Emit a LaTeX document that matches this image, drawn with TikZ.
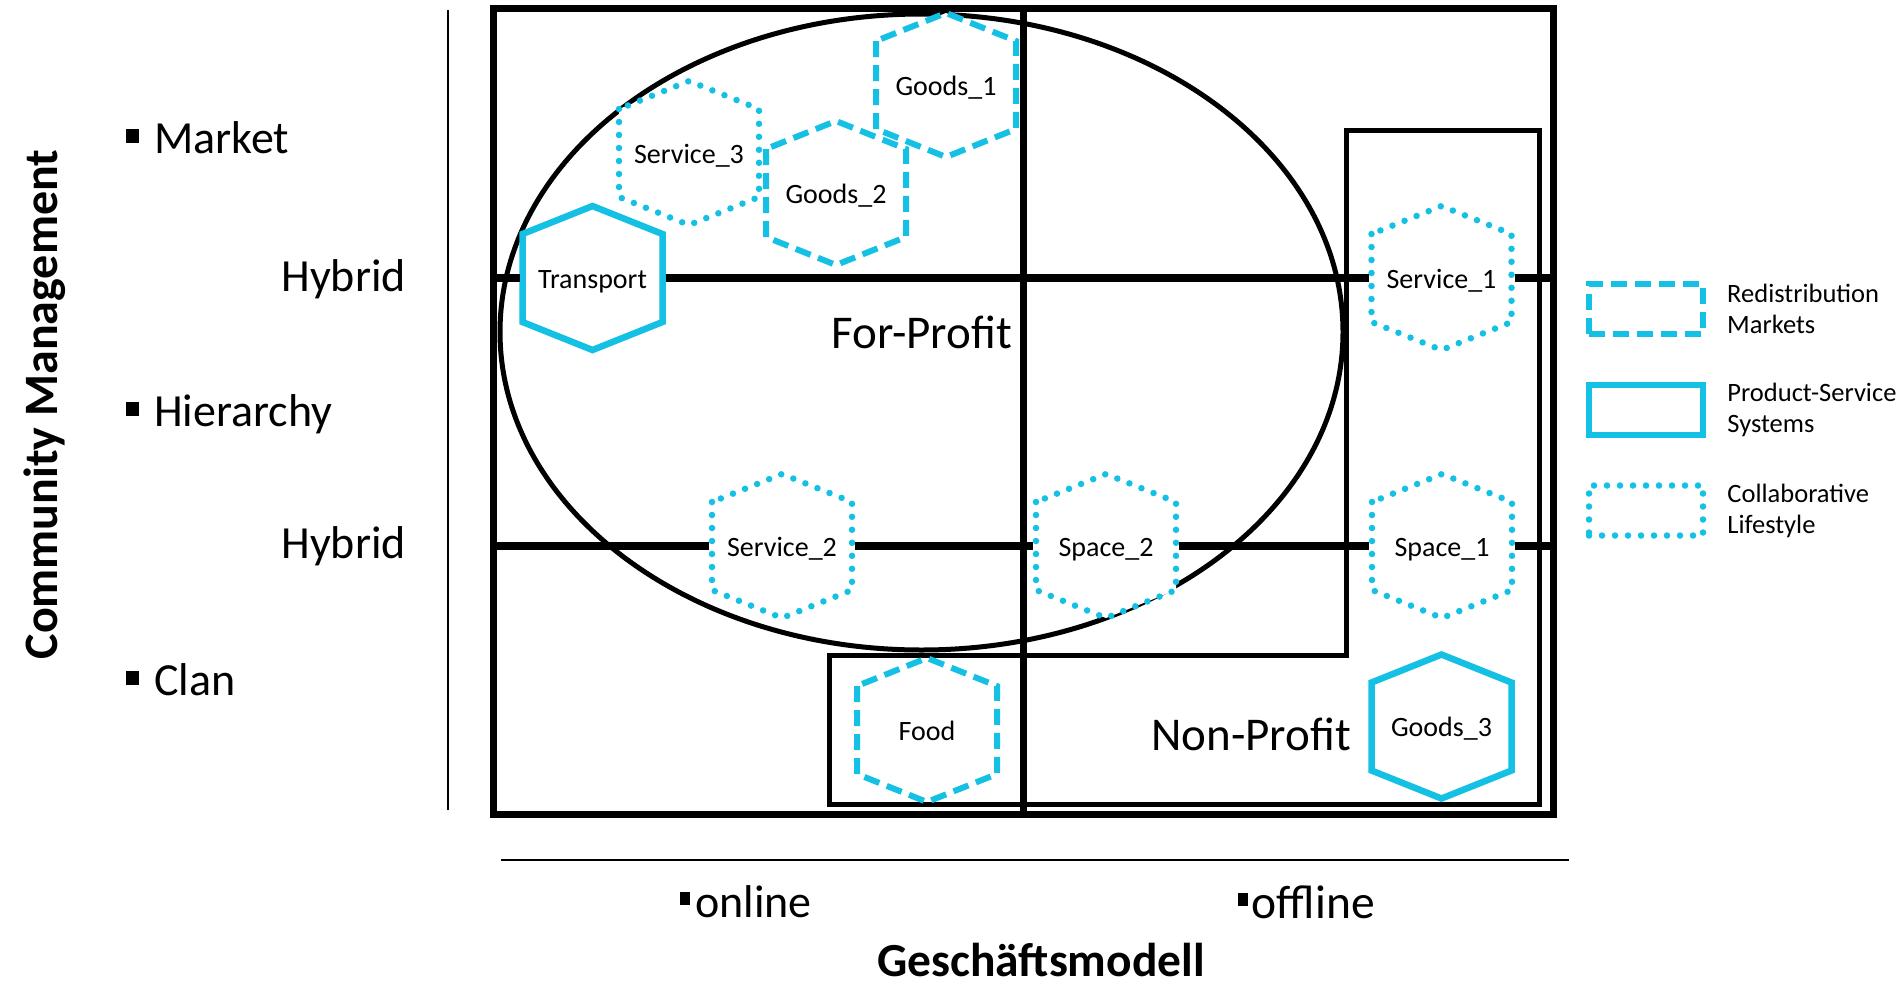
\documentclass[tikz,border=0pt]{standalone}
\usepackage{fontspec}
\setmainfont{Carlito}
\usetikzlibrary{positioning}
\definecolor{skyblue}{RGB}{20,192,228}

\begin{document}
\begin{tikzpicture}[x=1pt,y=-1pt,
  box line/.style={line width=7pt},
  hyb line/.style={draw,line width=7.5pt},
  thin line/.style={line width=2.5pt},
  border line/.style={line width=5pt},
  redis/.style={draw=skyblue,line width=6pt,dash pattern=on 16pt off 8pt},
  pss/.style={draw=skyblue,line width=6.5pt},
  colla/.style={draw=skyblue,line width=6.5pt,dash pattern=on 0pt off 13pt,line cap=round},
  hex node/.style={rectangle,minimum width=140pt,minimum height=88pt,inner sep=0pt,outer sep=3pt,
    text height=20pt,text depth=0pt,font=\fontsize{28}{34}\selectfont},
  big label/.style={inner sep=0pt,font=\fontsize{46}{55}\selectfont},
  leg node/.style={rectangle,minimum width=114pt,minimum height=50pt,inner sep=0pt},
  leg text/.style={inner sep=0pt,align=left,font=\fontsize{26.5}{31}\selectfont}]
  \useasboundingbox (0,0) rectangle (1901,986);

  % axes
  \draw[thin line] (448,10) -- (448,810);
  \draw[thin line] (501,860) -- (1569,860);
  \node[big label,rotate=90,anchor=base,font=\bfseries\fontsize{48}{56}\selectfont] (cm) at (57,404.6) {Community Management};
  \node[big label,anchor=base west] (market) at (126,153.7) {\rule[10.5pt]{13pt}{14pt}\hspace{15pt}Market};
  \node[big label,anchor=base east] (hybA) at (406,291.5) {Hybrid};
  \node[big label,anchor=base west] (hier) at (126,426.5) {\rule[10.5pt]{13pt}{14pt}\hspace{15pt}Hierarchy};
  \node[big label,anchor=base east] (hybB) at (406,558) {Hybrid};
  \node[big label,anchor=base west] (clan) at (126,695) {\rule[10.5pt]{13pt}{14pt}\hspace{15pt}Clan};
  \node[big label,anchor=base west] (online) at (680,917) {\rule[12pt]{10pt}{13pt}\hspace{5pt}online};
  \node[big label,anchor=base west,font=\fontsize{47.5}{55}\selectfont] (offline) at (1237.6,918) {\rule[12pt]{10pt}{13pt}\hspace{4pt}offline};
  \node[big label,anchor=base,font=\bfseries\fontsize{47.5}{56}\selectfont] (gm) at (1041,976) {Geschäftsmodell};

  % frame, profit areas
  \draw[box line] (493.5,8.5) rectangle (1553,814.5);
  \draw[box line] (1023,8.5) -- (1023,814.5);
  \draw[border line] (921.5,332) ellipse [x radius=421.5pt,y radius=318pt];
  \draw[border line] (829.5,655) -- (1346,655) -- (1346,130) -- (1539.5,130)
    -- (1539.5,804) -- (829.5,804) -- cycle;
  \node[big label,anchor=base,font=\fontsize{47}{56}\selectfont] (fp) at (921.75,348) {For-Profit};
  \node[big label,anchor=base,font=\fontsize{47}{56}\selectfont] (np) at (1251,750) {Non-Profit};

  % hexagons
  \foreach \n/\x/\y/\sty/\lbl in {goodsA/946/85/redis/Goods\_1, servC/689/153/colla/Service\_3,
      goodsB/836/193/redis/Goods\_2, transp/592.5/278/pss/Transport, servA/1441.5/278/colla/Service\_1,
      servB/782/546/colla/Service\_2, spaceB/1106/546/colla/Space\_2, spaceA/1442/546/colla/Space\_1,
      food/927/730/redis/Food, goodsC/1441.5/726.5/pss/Goods\_3}{
    \draw[\sty,fill=white] (\x-70,\y-44) -- (\x-70,\y+44) -- (\x,\y+72) -- (\x+70,\y+44)
      -- (\x+70,\y-44) -- (\x,\y-72) -- cycle;
    \node[hex node] (\n) at (\x,\y) {\lbl};
  }

  \coordinate (upW) at (493.5,278);
  \coordinate (upE) at (1553,278);
  \coordinate (loW) at (493.5,546);
  \coordinate (loE) at (1553,546);
  \path[hyb line] (upW) edge (transp) (transp) edge (servA) (servA) edge (upE);
  \path[hyb line] (loW) edge (servB) (servB) edge (spaceB) (spaceB) edge (spaceA) (spaceA) edge (loE);

  % legend
  \node[leg node,redis] (lgRed) at (1646,308.5) {};
  \node[leg node,pss] (lgPss) at (1646,410) {};
  \node[leg node,colla] (lgCol) at (1646,510.5) {};
  \node[leg text,right=21pt of lgRed] (txRed) {Redistribution\\Markets};
  \node[leg text,right=21pt of lgPss] (txPss) {Product-Service\\Systems};
  \node[leg text,right=21pt of lgCol] (txCol) {Collaborative\\Lifestyle};
\end{tikzpicture}
\end{document}
